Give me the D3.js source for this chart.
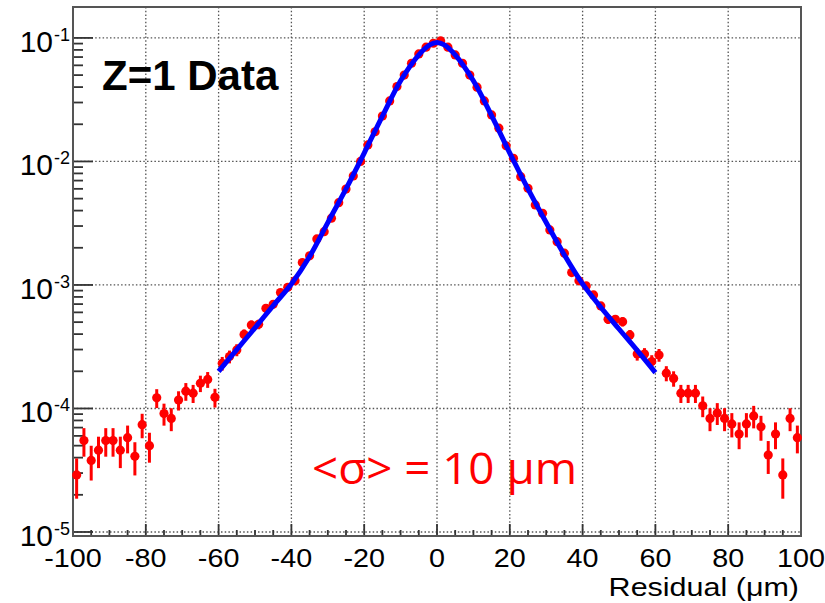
<!DOCTYPE html>
<html lang="en">
<head>
<meta charset="UTF-8">
<title>Z=1 Data residual</title>
<script src="https://d3js.org/d3.v7.min.js"></script>
<style>
    body { margin: 0; background: #fff; }
    svg { display: block; }
    .lbl { font-family: "Liberation Sans", Arial, sans-serif; fill: #000; }
</style>
</head>
<body>
<svg id="chart" width="825" height="603"></svg>
<script>
// bin centres (um) of the residual histogram
const binCenters = d3.range(-99, 100, 2);

// normalised counts per bin
const values = [
    2.9e-5, 5.5e-5, 3.8e-5, 4.6e-5, 5.5e-5, 5.5e-5, 4.6e-5, 5.8e-5, 4.1e-5, 7.4e-5,
    5.0e-5, 1.22e-4, 9.1e-5, 8.3e-5, 1.17e-4, 1.38e-4, 1.33e-4, 1.6e-4, 1.72e-4, 1.23e-4,
    2.32e-4, 2.63e-4, 2.98e-4, 3.98e-4, 4.74e-4, 4.8e-4, 6.47e-4, 6.98e-4, 8.67e-4, 9.58e-4,
    1.08e-3, 1.52e-3, 1.72e-3, 2.36e-3, 2.70e-3, 3.47e-3, 4.64e-3, 5.98e-3, 7.63e-3, 1.0e-2,
    1.36e-2, 1.74e-2, 2.33e-2, 3.09e-2, 4.04e-2, 5.0e-2, 6.24e-2, 7.42e-2, 8.41e-2, 9.06e-2,
    9.46e-2, 8.41e-2, 7.28e-2, 6.24e-2, 5.0e-2, 3.99e-2, 3.09e-2, 2.38e-2, 1.86e-2, 1.34e-2,
    1.06e-2, 7.53e-3, 6.07e-3, 4.45e-3, 3.8e-3, 2.79e-3, 2.24e-3, 1.81e-3, 1.26e-3, 1.08e-3,
    9.82e-4, 8.3e-4, 6.76e-4, 5.27e-4, 5.27e-4, 5.04e-4, 3.94e-4, 2.76e-4, 2.76e-4, 2.4e-4,
    2.71e-4, 1.93e-4, 1.75e-4, 1.33e-4, 1.33e-4, 1.33e-4, 1.05e-4, 8.3e-5, 9.2e-5, 8.3e-5,
    7.5e-5, 6.2e-5, 7.5e-5, 8.7e-5, 7.1e-5, 4.2e-5, 6.2e-5, 2.9e-5, 8.3e-5, 5.8e-5
];

// vertical error per bin (same units)
const errors = [
    1.04e-5, 1.43e-5, 1.19e-5, 1.31e-5, 1.43e-5, 1.43e-5, 1.31e-5, 1.47e-5, 1.23e-5, 1.66e-5,
    1.36e-5, 2.13e-5, 1.84e-5, 1.75e-5, 2.08e-5, 2.26e-5, 2.22e-5, 2.43e-5, 2.52e-5, 2.13e-5,
    2.93e-5, 3.12e-5, 3.32e-5, 3.84e-5, 4.19e-5, 4.22e-5, 4.9e-5, 5.09e-5, 5.67e-5, 5.96e-5,
    6.33e-5, 7.5e-5, 7.98e-5, 9.35e-5, 1.0e-4, 1.13e-4, 1.31e-4, 1.49e-4, 1.68e-4, 1.93e-4,
    2.24e-4, 2.54e-4, 2.94e-4, 3.38e-4, 3.87e-4, 4.3e-4, 4.81e-4, 5.24e-4, 5.58e-4, 5.79e-4,
    5.92e-4, 5.58e-4, 5.19e-4, 4.81e-4, 4.3e-4, 3.84e-4, 3.38e-4, 2.97e-4, 2.63e-4, 2.23e-4,
    1.98e-4, 1.67e-4, 1.5e-4, 1.28e-4, 1.19e-4, 1.02e-4, 9.1e-5, 8.2e-5, 6.8e-5, 6.33e-5,
    6.0e-5, 5.5e-5, 5.0e-5, 4.4e-5, 4.4e-5, 4.3e-5, 3.8e-5, 3.2e-5, 3.2e-5, 3.0e-5,
    3.2e-5, 2.7e-5, 2.5e-5, 2.22e-5, 2.22e-5, 2.22e-5, 2.0e-5, 1.75e-5, 1.85e-5, 1.75e-5,
    1.67e-5, 1.52e-5, 1.67e-5, 1.8e-5, 1.62e-5, 1.25e-5, 1.52e-5, 1.04e-5, 1.75e-5, 1.47e-5
];

// fitted curve, sampled from the plot
const fitX = [-60, -55, -50, -45, -40, -35, -30, -25, -20, -15, -10, -5, -2, 0,
              2, 5, 10, 15, 20, 25, 30, 35, 40, 45, 50, 55, 60];
const fitY = [2.0e-4, 3.0e-4, 4.5e-4, 6.8e-4, 1.02e-3, 1.7e-3, 3.2e-3, 6.0e-3, 1.17e-2, 2.33e-2, 4.5e-2, 7.3e-2, 8.8e-2, 9.2e-2,
              8.8e-2, 7.3e-2, 4.5e-2, 2.35e-2, 1.17e-2, 6.0e-3, 3.2e-3, 1.75e-3, 1.02e-3, 6.6e-4, 4.4e-4, 2.95e-4, 1.95e-4];

const xTicks = d3.range(-100, 101, 20);
const yDecades = [-5, -4, -3, -2, -1];

const svg = d3.select("#chart");
const pLeft = 73, pRight = 801, pTop = 7, pBottom = 536;

const x = d3.scaleLinear().domain([-100, 100]).range([pLeft, pRight]);
const y = d3.scaleLog().domain([9.28e-6, 0.178]).range([pBottom, pTop]);

// grid
const grid = svg.append("g")
    .attr("stroke", "#555")
    .attr("stroke-width", 1.3)
    .attr("stroke-dasharray", "1.5,2.2");
xTicks.slice(1, -1).forEach(t => {
    grid.append("line").attr("x1", x(t)).attr("x2", x(t)).attr("y1", pTop).attr("y2", pBottom);
});
yDecades.forEach(k => {
    grid.append("line").attr("x1", pLeft).attr("x2", pRight)
        .attr("y1", y(Math.pow(10, k))).attr("y2", y(Math.pow(10, k)));
});

// ticks
const ticks = svg.append("g").attr("stroke", "#333").attr("stroke-width", 1.8);
yDecades.forEach(k => {
    const d = Math.pow(10, k);
    ticks.append("line").attr("x1", pLeft).attr("x2", pLeft + 20).attr("y1", y(d)).attr("y2", y(d));
    if (k < -1) {
        for (let m = 2; m <= 9; m++) {
            ticks.append("line").attr("x1", pLeft).attr("x2", pLeft + 10)
                .attr("y1", y(m * d)).attr("y2", y(m * d));
        }
    }
});
d3.range(-95, 100, 5).forEach(t => {
    const len = t % 20 === 0 ? 12 : 6;
    ticks.append("line").attr("x1", x(t)).attr("x2", x(t))
        .attr("y1", pBottom).attr("y2", pBottom - len);
});

// frame
svg.append("rect")
    .attr("x", pLeft).attr("y", pTop)
    .attr("width", pRight - pLeft).attr("height", pBottom - pTop)
    .attr("fill", "none").attr("stroke", "#555").attr("stroke-width", 2);

// y labels 10^k
yDecades.forEach(k => {
    const yy = y(Math.pow(10, k));
    svg.append("text").attr("class", "lbl")
        .attr("x", 53).attr("y", yy + 14)
        .attr("text-anchor", "end").attr("font-size", 30)
        .text("10");
    svg.append("text").attr("class", "lbl")
        .attr("x", 54).attr("y", yy + 3)
        .attr("font-size", 18)
        .text(k);
});

// x labels
xTicks.forEach(t => {
    svg.append("text").attr("class", "lbl")
        .attr("transform", `translate(${x(t)},567) scale(1.15,1)`)
        .attr("text-anchor", "middle").attr("font-size", 25)
        .text(t);
});

svg.append("text").attr("class", "lbl")
    .attr("transform", "translate(799,596) scale(1.22,1)")
    .attr("text-anchor", "end").attr("font-size", 25)
    .text("Residual (\u03bcm)");

// error bars
const pts = binCenters.map((c, i) => ({ c, v: values[i], e: errors[i] }));
svg.append("g").selectAll("line").data(pts).join("line")
    .attr("x1", d => x(d.c)).attr("x2", d => x(d.c))
    .attr("y1", d => y(Math.max(d.v - d.e, 9.3e-6)))
    .attr("y2", d => y(d.v + d.e))
    .attr("stroke", "#ff0000").attr("stroke-width", 3);

// markers
svg.append("g").selectAll("circle").data(pts).join("circle")
    .attr("cx", d => x(d.c)).attr("cy", d => y(d.v))
    .attr("r", 4.6).attr("fill", "#ff0000");

// fit curve
const line = d3.line()
    .x((d, i) => x(fitX[i]))
    .y(d => y(d))
    .curve(d3.curveCatmullRom);
svg.append("path")
    .attr("d", line(fitY))
    .attr("fill", "none").attr("stroke", "#0000ff").attr("stroke-width", 5);

// annotations
svg.append("text").attr("class", "lbl")
    .attr("x", 102).attr("y", 90)
    .attr("font-size", 42).attr("font-weight", "bold")
    .text("Z=1 Data");

svg.append("text")
    .attr("x", 312).attr("y", 484)
    .attr("font-family", "'Open Sans', sans-serif")
    .attr("font-size", 43).attr("fill", "#ff0000")
    .attr("textLength", 265).attr("lengthAdjust", "spacingAndGlyphs")
    .text("<\u03c3> = 10 \u03bcm");
</script>
</body>
</html>
